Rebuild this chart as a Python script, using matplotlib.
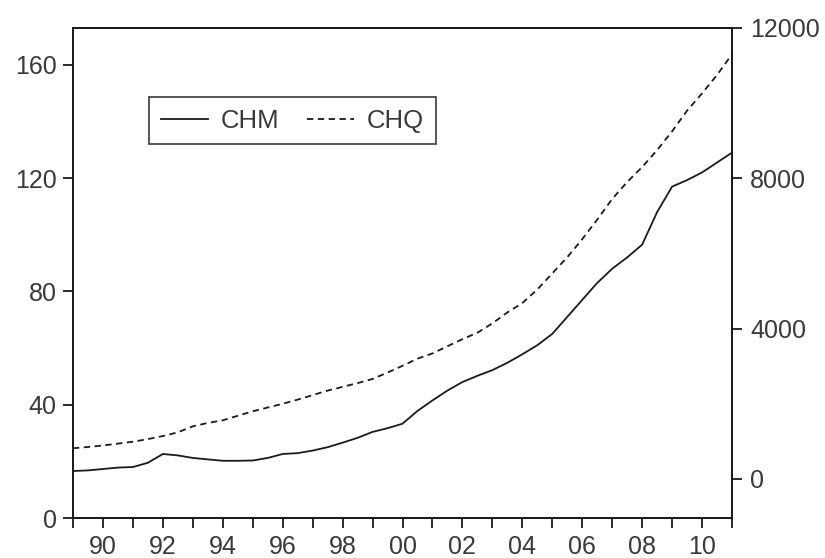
import matplotlib
matplotlib.use("Agg")
import matplotlib.pyplot as plt
import numpy as np

# Half-yearly observation positions (1989.0 ... 2011.0)
years = [1989.0 + 0.5 * i for i in range(45)]

chm = [16.6, 16.8, 17.3, 17.8, 18.0, 19.5, 22.6, 22.1, 21.2, 20.7,
       20.2, 20.2, 20.3, 21.2, 22.6, 22.9, 23.8, 25.0, 26.6, 28.3,
       30.4, 31.7, 33.3, 37.8, 41.5, 45.0, 48.0, 50.2, 52.2, 54.8,
       57.8, 61.0, 65.0, 71.0, 77.0, 83.0, 88.0, 92.0, 96.5, 108.0,
       117.0, 119.3, 122.0, 125.5, 129.0]

chq = [816, 850, 890, 940, 990, 1060, 1140, 1240, 1400, 1490,
       1560, 1680, 1800, 1900, 2000, 2110, 2230, 2350, 2450, 2550,
       2660, 2830, 3010, 3200, 3340, 3530, 3720, 3890, 4140, 4430,
       4680, 5040, 5470, 5900, 6380, 6900, 7450, 7900, 8300, 8750,
       9250, 9800, 10260, 10750, 11300]

left_ticks = [0, 40, 80, 120, 160]
right_ticks = [0, 4000, 8000, 12000]
x_major = list(range(1990, 2011, 2))
x_labels = ["90", "92", "94", "96", "98", "00", "02", "04", "06", "08", "10"]
x_minor = list(range(1989, 2012, 2))

plt.rcParams['font.family'] = ['Liberation Sans', 'DejaVu Sans']
txt = '#3a3a3a'

fig = plt.figure(figsize=(8.25, 5.58), dpi=100)
ax = fig.add_axes([73/825, 1 - 518/558, (732-73)/825, (518-28)/558])
ax2 = ax.twinx()

l1, = ax.plot(years, chm, color='#1a1a1a', lw=1.3, label='CHM')
l2, = ax2.plot(years, chq, color='#1a1a1a', lw=1.3, dashes=(3.5, 2.5), label='CHQ')

ax.set_xlim(1989, 2011)
ax.set_ylim(0, 173)
ax2.set_ylim(-1040, 12000)

ax.set_yticks(left_ticks)
ax2.set_yticks(right_ticks)
ax.set_xticks(x_major)
ax.set_xticklabels(x_labels)
ax.set_xticks(x_minor, minor=True)

for a in (ax, ax2):
    for s in a.spines.values():
        s.set_linewidth(1.3)
        s.set_color('#1a1a1a')

ax.tick_params(axis='y', which='both', direction='out', length=7.2, width=1.3,
               color='#1a1a1a', labelsize=18, labelcolor=txt, pad=4.5)
ax.tick_params(axis='x', which='both', direction='out', length=7.2, width=1.3,
               color='#1a1a1a', labelsize=18, labelcolor=txt, pad=5)
ax2.tick_params(axis='y', direction='out', length=7.2, width=1.3,
                color='#1a1a1a', labelsize=18, labelcolor=txt, pad=6)

leg = fig.legend(handles=[l1, l2], labels=['CHM', 'CHQ'], ncol=2,
                 loc='upper left', bbox_to_anchor=(149/825, 1 - 97/558),
                 bbox_transform=fig.transFigure, borderaxespad=0,
                 fontsize=18.5, frameon=True, fancybox=False,
                 handlelength=1.85, handletextpad=0.5, columnspacing=1.05,
                 borderpad=0.45, labelcolor=txt)
leg.get_frame().set_edgecolor('#1a1a1a')
leg.get_frame().set_linewidth(1.3)

fig.savefig('out.png', dpi=100)
